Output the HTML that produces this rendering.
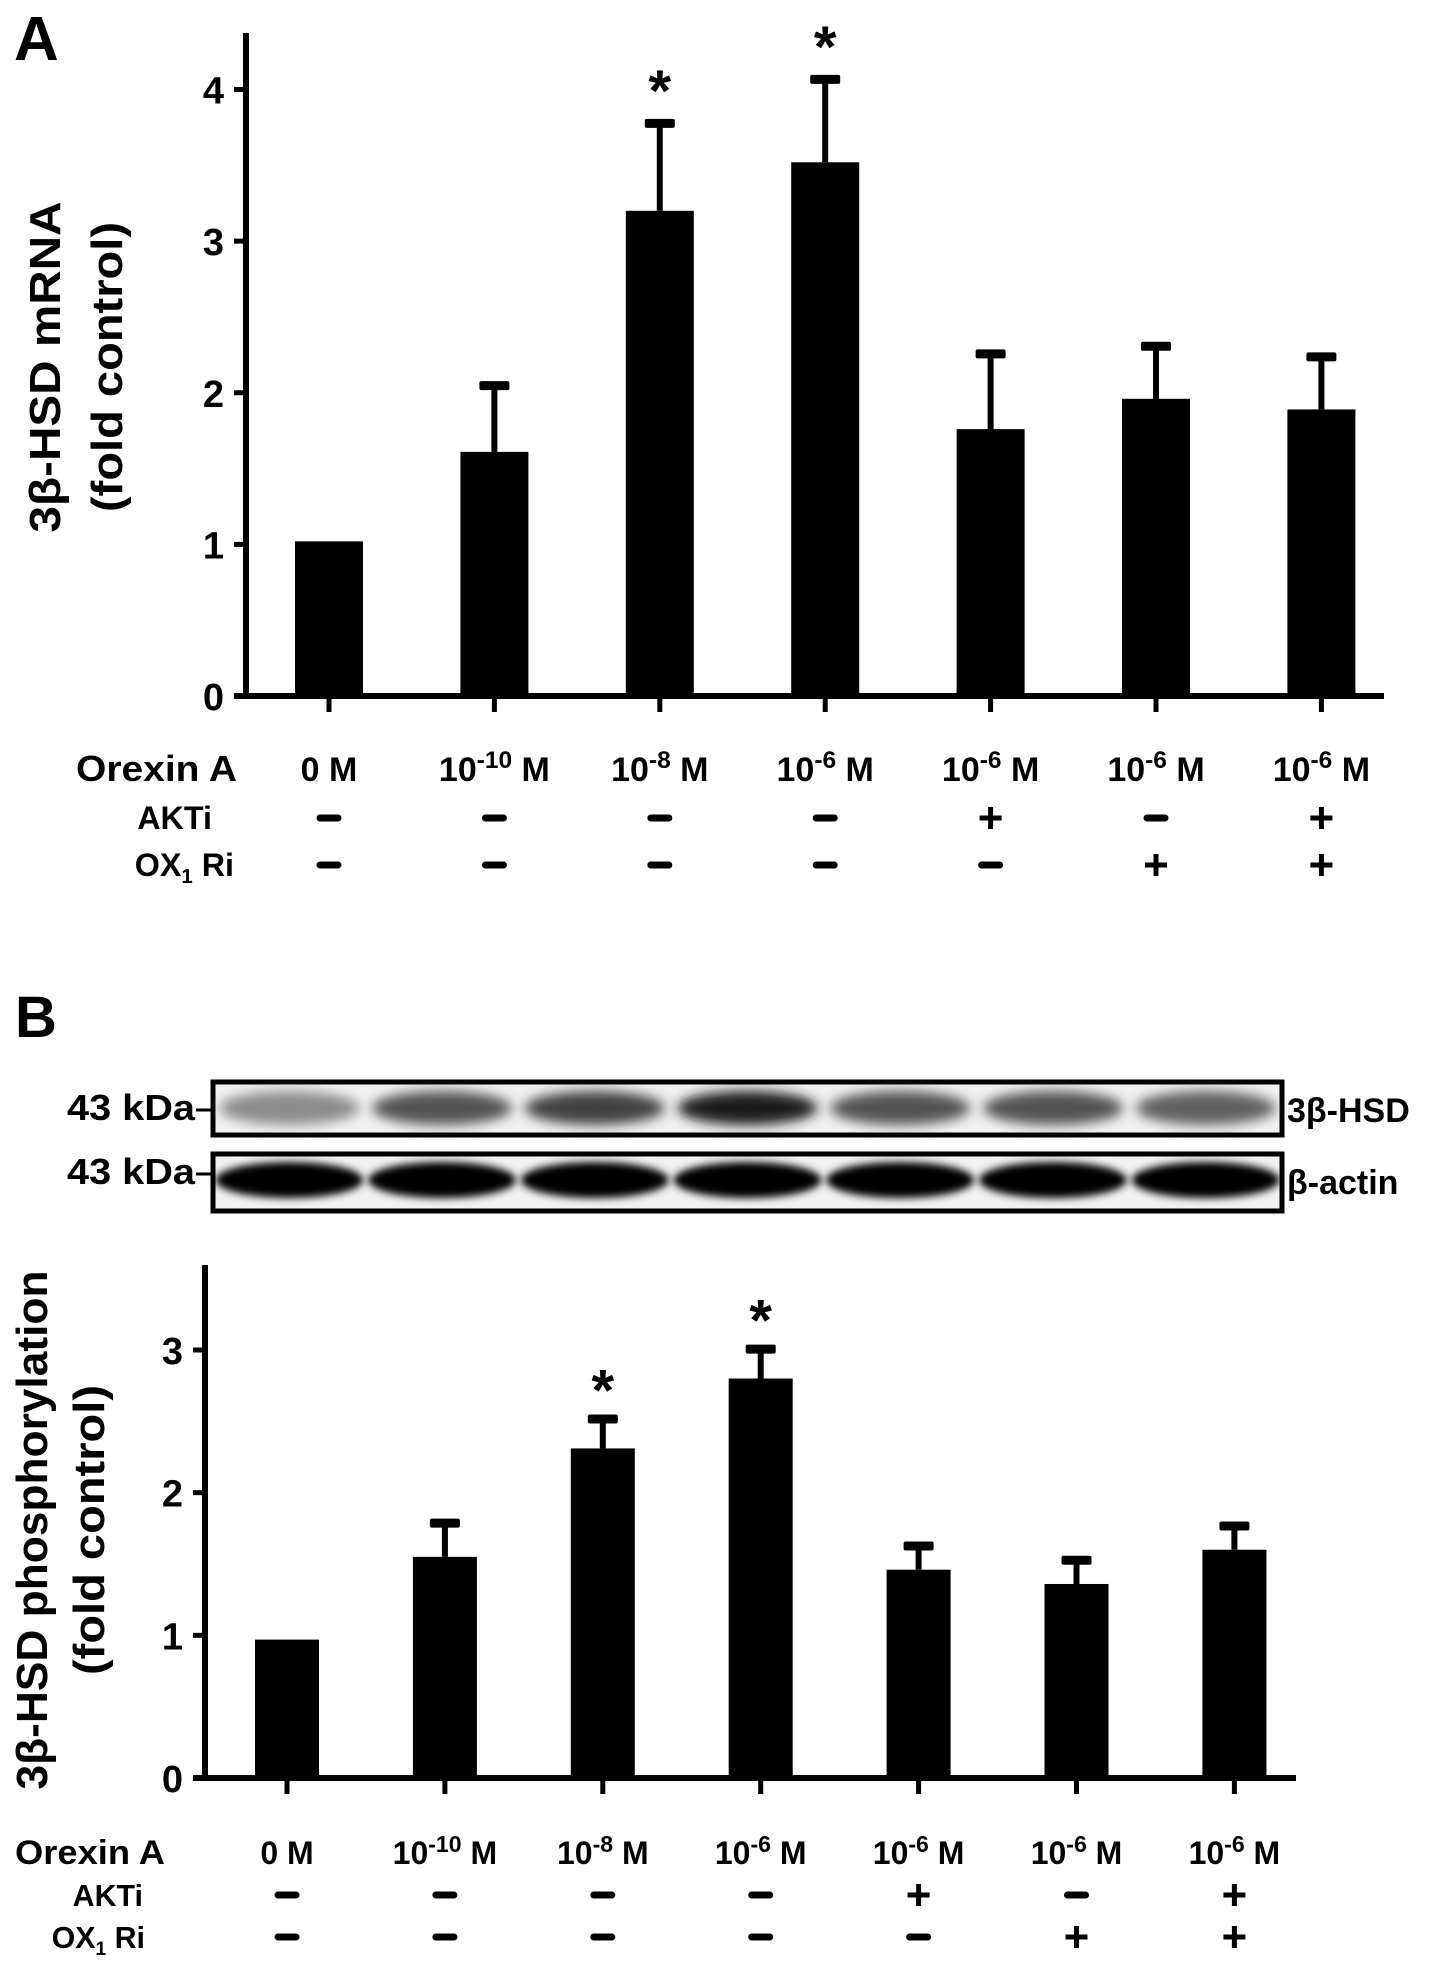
<!DOCTYPE html>
<html><head><meta charset="utf-8"><style>
html,body{margin:0;padding:0;background:#fff;}
svg{display:block;font-family:"Liberation Sans",Arial,sans-serif;}
</style></head><body>
<svg id="fig" width="1441" height="1983" viewBox="0 0 1441 1983" xmlns="http://www.w3.org/2000/svg">
<defs>
<filter id="blur6" x="-20%" y="-50%" width="140%" height="200%"><feGaussianBlur stdDeviation="6"/></filter>
<filter id="blur4" x="-20%" y="-50%" width="140%" height="200%"><feGaussianBlur stdDeviation="4"/></filter>
</defs>
<text x="14" y="60" font-size="62" font-weight="bold">A</text>
<text x="15" y="1037" font-size="58" font-weight="bold">B</text>
<g id="gA"></g>
<g id="gBlot"></g>
<g id="gB"></g>
</svg>
<script>
// ---- data ----
const categories = ["0 M","10^-10 M","10^-8 M","10^-6 M","10^-6 M","10^-6 M","10^-6 M"];
const aktiRow = ["-","-","-","-","+","-","+"];
const ox1Row = ["-","-","-","-","-","+","+"];
const mrnaValues = [1.02,1.61,3.20,3.52,1.76,1.96,1.89];
const mrnaErrors = [0,0.44,0.58,0.55,0.50,0.35,0.35];
const mrnaSignif = [false,false,true,true,false,false,false];
const mrnaTicks = [0,1,2,3,4];
const phosValues = [0.97,1.55,2.31,2.80,1.46,1.36,1.60];
const phosErrors = [0,0.24,0.21,0.21,0.17,0.17,0.17];
const phosSignif = [false,false,true,true,false,false,false];
const phosTicks = [0,1,2,3];
const blotTarget = [0.45,0.68,0.74,0.88,0.68,0.68,0.62];
const blotActin = [1,1,1,1,1,1,1];

const NS="http://www.w3.org/2000/svg";
function mk(parent,tag,attrs,text){
  const e=document.createElementNS(NS,tag);
  for(const k in attrs)e.setAttribute(k,attrs[k]);
  if(text!==undefined)e.textContent=text;
  parent.appendChild(e);return e;
}
function labelText(parent,x,y,cat,size,weight){
  const t=mk(parent,"text",{x:x,y:y,"font-size":size,"font-weight":weight,"text-anchor":"middle"});
  const m=cat.match(/^10\^(-?\d+) M$/);
  if(m){
    mk(t,"tspan",{},"10");
    mk(t,"tspan",{dy:-size*0.38,"font-size":size*0.72},m[1]);
    mk(t,"tspan",{dy:size*0.38},"\u00a0M");
  } else t.textContent=cat;
  return t;
}

function drawChart(g,o){
  const y=v=>o.y0-(v/o.vref)*(o.y0-o.yref);
  const x=i=>o.x0+i*o.step;
  let e=mk(g,"line",{x1:o.ax,y1:o.top,x2:o.ax,y2:o.y0+2,stroke:"#000","stroke-width":6});
  
  
  e=mk(g,"line",{x1:o.ax-12,y1:o.y0,x2:o.right,y2:o.y0,stroke:"#000","stroke-width":6});
  
  
  o.ticks.forEach(t=>{
    mk(g,"line",{x1:o.ax-12,y1:y(t),x2:o.ax,y2:y(t),stroke:"#000","stroke-width":5});
    const l=mk(g,"text",{x:o.ax-22,y:y(t)+14,"font-size":o.tickSize,"font-weight":"bold","text-anchor":"end"},String(t));
    
    
  });
  o.values.forEach((v,i)=>{
    const cx=x(i);
    const b=mk(g,"rect",{x:cx-o.bw/2,y:y(v),width:o.bw,height:o.y0-y(v),fill:"#000"});
    
    
    mk(g,"line",{x1:cx,y1:o.y0,x2:cx,y2:o.y0+16,stroke:"#000","stroke-width":5});
    if(o.errors[i]>0){
      const et=y(v+o.errors[i]);
      const eb=mk(g,"line",{x1:cx,y1:y(v),x2:cx,y2:et,stroke:"#000","stroke-width":6});
      
      
      mk(g,"rect",{x:cx-15,y:et-4,width:30,height:9,fill:"#000",rx:2});
    }
    if(o.signif[i]){
      const s=mk(g,"text",{x:cx,y:y(v+o.errors[i])-12+o.starOff,"font-size":58,"font-weight":"bold","text-anchor":"middle"},"*");
      
      
    }
    const cl=labelText(g,cx,o.rowY[0],categories[i],o.labSize,"bold");
    
    
    [aktiRow,ox1Row].forEach((row,r)=>{
      const yy=o.rowY[r+1]-11;
      if(row[i]==="+"){
        mk(g,"line",{x1:cx-11,y1:yy,x2:cx+11,y2:yy,stroke:"#000","stroke-width":5});
        mk(g,"line",{x1:cx,y1:yy-11,x2:cx,y2:yy+11,stroke:"#000","stroke-width":5});
      } else {
        mk(g,"line",{x1:cx-9,y1:yy,x2:cx+9,y2:yy,stroke:"#000","stroke-width":7,"stroke-linecap":"round"});
      }
    });
  });
  let t=mk(g,"text",{x:o.rowX0,y:o.rowY[0],"font-size":o.labSize+2,"font-weight":"bold",textLength:o.orexW,lengthAdjust:"spacingAndGlyphs"},"Orexin A");
  
  t=mk(g,"text",{x:o.rowXR,y:o.rowY[1],"font-size":o.labSize*0.95,"text-anchor":"end","font-weight":"bold"},"AKTi");
  
  t=mk(g,"text",{x:o.rowXR2,y:o.rowY[2],"font-size":o.labSize*0.95,"text-anchor":"end","font-weight":"bold"});
  mk(t,"tspan",{},"OX");mk(t,"tspan",{dy:7,"font-size":o.labSize*0.6},"1");mk(t,"tspan",{dy:-7},"\u00a0Ri");
  
  const yt=mk(g,"text",{transform:`translate(${o.ytx},${o.yty}) rotate(-90)`,"font-size":o.ytSize,"text-anchor":"middle","font-weight":"bold"});
  mk(yt,"tspan",{x:0,dy:0,textLength:o.ytLen[0],lengthAdjust:"spacingAndGlyphs"},o.yTitle[0]);
  mk(yt,"tspan",{x:0,dy:o.ytGap,textLength:o.ytLen[1],lengthAdjust:"spacingAndGlyphs"},o.yTitle[1]);
  
}

drawChart(document.getElementById("gA"),{
  values:mrnaValues,errors:mrnaErrors,signif:mrnaSignif,ticks:mrnaTicks,
  y0:696,yref:89.5,vref:4,top:33,ax:246,right:1384,x0:329,step:165.4,bw:68,
  tickSize:38,labSize:34,rowY:[781,829,876],rowX0:76,orexW:161,rowXR:212,rowXR2:234,
  ytx:60,yty:367,ytSize:44,ytGap:62,ytLen:[331,290],yTitle:["3\u03b2-HSD mRNA","(fold control)"],starOff:0
});
drawChart(document.getElementById("gB"),{
  values:phosValues,errors:phosErrors,signif:phosSignif,ticks:phosTicks,
  y0:1778,yref:1350,vref:3,top:1265,ax:205,right:1296,x0:287,step:157.9,bw:64,
  tickSize:38,labSize:32,rowY:[1864,1906,1948],rowX0:15,orexW:150,rowXR:143,rowXR2:145,
  ytx:47,yty:1530,ytSize:44,ytGap:57,ytLen:[519,290],yTitle:["3\u03b2-HSD phosphorylation","(fold control)"],starOff:4
});

// blot
const gb=document.getElementById("gBlot");
const laneX=i=>213+(i+0.5)*(1069/7);
function box(y1,y2,name){
  const r=mk(gb,"rect",{x:213,y:y1,width:1069,height:y2-y1,fill:"#f2f2f2",stroke:"#000","stroke-width":5});
  
}
box(1082,1135,"blot-3b-hsd");
box(1154,1211,"blot-beta-actin");
blotTarget.forEach((v,i)=>{
  const g=Math.round(255*(1-v));
  const e=mk(gb,"ellipse",{cx:laneX(i),cy:1108,rx:70,ry:17,fill:`rgb(${g},${g},${g})`,filter:"url(#blur6)"});
  
});
blotActin.forEach((v,i)=>{
  const g=Math.round(255*(1-v));
  const e=mk(gb,"ellipse",{cx:laneX(i),cy:1180,rx:74,ry:18,fill:`rgb(${g},${g},${g})`,filter:"url(#blur4)"});
  
});
[[1120,"43 kDa"],[1184,"43 kDa"]].forEach(([yy,s])=>{
  const t=mk(gb,"text",{x:67,y:yy,"font-size":36,"font-weight":"bold",textLength:128,lengthAdjust:"spacingAndGlyphs"},s);
  
  mk(gb,"line",{x1:196,y1:yy-10,x2:213,y2:yy-10,stroke:"#000","stroke-width":3});
});
let t=mk(gb,"text",{x:1287,y:1122,"font-size":34,"font-weight":"bold"},"3\u03b2-HSD");

t=mk(gb,"text",{x:1287,y:1194,"font-size":34,"font-weight":"bold"},"\u03b2-actin");

</script>
</body></html>
